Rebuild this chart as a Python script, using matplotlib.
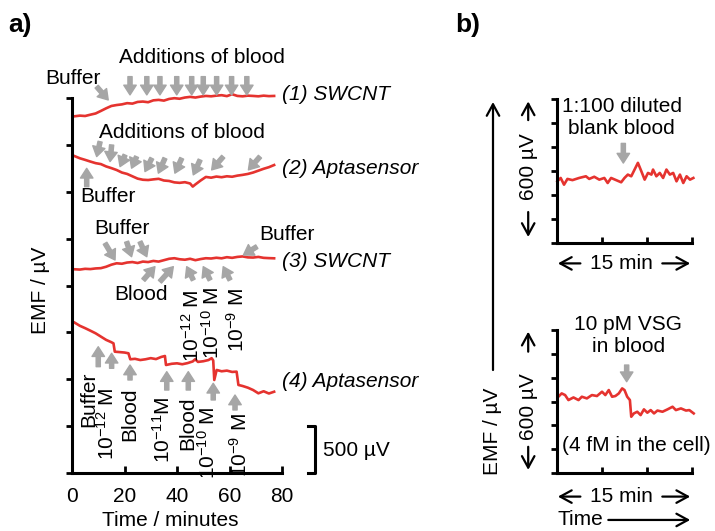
import matplotlib.pyplot as plt

plt.rcParams['font.family'] = ['Liberation Sans', 'DejaVu Sans']
plt.rcParams['mathtext.default'] = 'regular'

RED = '#e5332f'
GREY = '#a6a6a6'
FS = 15

# ---- panel a: EMF traces (time / min, EMF / uV, offset per trace) ----
t_swcnt1 = [1, 3, 5, 7, 9, 11, 13, 15, 17, 19, 21, 23, 25, 27, 29, 31, 33, 35, 37, 39,
            41, 43, 45, 47, 49, 51, 53, 55, 57, 59, 61, 63, 65, 67, 69, 71, 73, 75, 77]
emf_swcnt1 = [3805, 3812, 3808, 3822, 3835, 3862, 3890, 3915, 3925, 3932, 3945, 3940, 3958,
              3962, 3955, 3975, 3980, 3972, 3990, 3998, 3992, 4005, 4012, 4005, 4015, 4022,
              4018, 4025, 4030, 4020, 4040, 4022, 4018, 4025, 4022, 4018, 4025, 4020, 4022]

t_apta2 = [1, 3, 5, 7, 9, 11, 13, 15, 17, 19, 21, 23, 25, 27, 29, 31, 33, 35, 37, 39,
           41, 43, 45, 46, 47, 49, 51, 53, 55, 57, 59, 61, 63, 65, 67, 69, 71, 73, 75, 77]
emf_apta2 = [3380, 3357, 3340, 3322, 3305, 3295, 3270, 3252, 3232, 3205, 3190, 3165, 3140,
             3128, 3125, 3132, 3138, 3120, 3115, 3100, 3095, 3102, 3088, 3055, 3078, 3120,
             3158, 3150, 3162, 3155, 3165, 3160, 3172, 3180, 3190, 3205, 3225, 3245, 3262, 3285]

t_swcnt3 = [1, 3, 5, 7, 9, 11, 13, 15, 17, 19, 21, 23, 25, 27, 29, 31, 33, 35, 37, 39,
            41, 43, 45, 47, 49, 51, 53, 55, 57, 59, 61, 63, 65, 67, 69, 71, 73, 75, 77]
emf_swcnt3 = [2173, 2170, 2178, 2175, 2182, 2185, 2200, 2222, 2237, 2232, 2245, 2250, 2240,
              2255, 2250, 2262, 2255, 2270, 2285, 2291, 2280, 2275, 2285, 2270, 2282, 2291,
              2288, 2296, 2290, 2302, 2295, 2305, 2310, 2300, 2298, 2305, 2295, 2292, 2290]

t_apta4 = [1, 3, 5, 7, 9, 11, 13, 15, 15.8, 16.3, 18, 20, 21.5, 22.2, 24, 26, 28, 30, 32,
           34, 35.4, 35.8, 38, 40, 42, 44, 46, 46.9, 48, 50, 52, 53.2, 53.8, 54.2, 55.1,
           57, 59, 61, 62.7, 63.4, 65, 67, 69, 71, 73, 75, 77]
emf_apta4 = [1604, 1570, 1545, 1518, 1490, 1455, 1420, 1395, 1383, 1294, 1290, 1285, 1277,
             1213, 1218, 1205, 1213, 1225, 1215, 1238, 1248, 1152, 1165, 1170, 1160, 1172,
             1190, 1213, 1185, 1192, 1205, 1225, 1200, 992, 1099, 1085, 1092, 1078, 1081,
             939, 928, 910, 885, 850, 872, 848, 867]

trace_names = ['(1) SWCNT', '(2) Aptasensor', '(3) SWCNT', '(4) Aptasensor']
trace_label_emf = [4032, 3253, 2254, 974]

# blood additions on trace 1 (down arrows)
blood_adds_1 = [22.1, 28.5, 33.5, 39.9, 45.6, 50.0, 55.1, 60.8, 66.6]
# blood additions on trace 2 (tail -> tip)
adds2_tail_t = [10.7, 15.1, 20.2, 24.6, 30.4, 35.4, 41.8, 48.8, 57.6, 71.6]
adds2_tail_v = [3534, 3499, 3392, 3374, 3357, 3357, 3357, 3340, 3374, 3374]
adds2_tip_t = [9.4, 14.5, 18.3, 22.7, 27.8, 32.9, 39.2, 46.2, 53.2, 67.2]
adds2_tip_v = [3375, 3322, 3268, 3251, 3215, 3198, 3198, 3180, 3233, 3233]

# trace 3 concentrations
conc3_labels = ['10$^{-12}$ M', '10$^{-10}$ M', '10$^{-9}$ M']
conc3_tail_t = [46.2, 52.6, 60.2]
conc3_tip_t = [43.7, 50.0, 57.6]
conc3_label_t = [45.6, 53.2, 62.7]
conc3_label_v = [1952, 1984, 1973]

# trace 4 additions (vertical up arrows)
add4_labels = ['Buffer', '10$^{-12}$ M', 'Blood', '10$^{-11}$M', 'Blood', '10$^{-10}$ M', '10$^{-9}$ M']
add4_arrow_t = [10.0, 15.1, 22.1, 36.1, 44.3, 53.8, 62.1]
add4_tail_v = [1134, 1117, 992, 885, 885, 779, 672]
add4_tip_v = [1347, 1277, 1152, 1081, 1081, 957, 832]
add4_label_t = [6.2, 13.3, 22.1, 34.7, 44.2, 51.8, 64.0]
add4_label_v = [1081, 907, 907, 811, 811, 704, 640]

scale_bar_uv = 500

# ---- panel b: 15 min recordings (min, uV) ----
t_blank = [0.04, 0.41, 0.78, 1.16, 1.72, 2.46, 3.21, 3.58, 4.14, 4.70, 5.26, 5.63, 6.01,
           6.57, 7.13, 7.50, 7.87, 8.25, 8.62, 8.99, 9.37, 9.74, 10.11, 10.49, 10.67, 11.04,
           11.42, 11.79, 12.16, 12.54, 12.91, 13.28, 13.66, 14.03, 14.40, 14.78, 15.15]
emf_blank = [257, 271, 243, 267, 262, 271, 278, 267, 276, 264, 271, 250, 271, 262, 253, 271,
             285, 278, 306, 334, 299, 264, 292, 285, 306, 278, 292, 271, 306, 285, 292, 257,
             285, 250, 278, 264, 271]

t_vsg = [0.15, 0.52, 0.90, 1.27, 1.83, 2.39, 2.76, 3.32, 3.88, 4.44, 5.00, 5.37, 5.75, 6.12,
         6.49, 6.87, 7.24, 7.50, 7.80, 8.10, 8.25, 8.54, 8.92, 9.29, 9.66, 10.04, 10.41,
         10.78, 11.16, 11.72, 12.28, 12.84, 13.21, 13.77, 14.33, 14.70, 15.19]
emf_vsg = [320, 334, 327, 306, 317, 306, 320, 313, 327, 323, 341, 327, 348, 320, 323, 334,
           355, 348, 320, 306, 236, 250, 257, 243, 267, 253, 264, 250, 262, 257, 267, 278,
           264, 271, 262, 264, 250]


def grey_arrow(ax, tail, tip):
    ax.annotate('', xy=tip, xytext=tail, annotation_clip=False,
                arrowprops=dict(color=GREY, width=3, headwidth=9, headlength=7, shrink=0))


def black_arrow(ax, tail, tip, coords='data'):
    ax.annotate('', xy=tip, xytext=tail, xycoords=coords, textcoords=coords,
                annotation_clip=False,
                arrowprops=dict(arrowstyle='->,head_length=0.55,head_width=0.3',
                                lw=1.6, color='black', mutation_scale=15,
                                shrinkA=0, shrinkB=0))


fig = plt.figure(figsize=(7.15, 5.31), dpi=100)

# ================= panel a =================
ax = fig.add_axes([72 / 715, 58 / 531, 210 / 715, 375 / 531])
for t, v in [(t_swcnt1, emf_swcnt1), (t_apta2, emf_apta2),
             (t_swcnt3, emf_swcnt3), (t_apta4, emf_apta4)]:
    ax.plot(t, v, color=RED, lw=1.9, clip_on=False)

ax.set_xlim(0, 80)
ax.set_ylim(0, 4000)
ax.set_xticks([0, 20, 40, 60, 80])
ax.set_yticks(range(0, 4001, 500))
ax.tick_params(axis='x', labelsize=FS, direction='in', length=5, width=2, pad=10)
ax.tick_params(axis='y', labelleft=False, direction='out', length=4, width=2)
for s in ['top', 'right']:
    ax.spines[s].set_visible(False)
for s in ['left', 'bottom']:
    ax.spines[s].set_linewidth(2.2)

for name, v in zip(trace_names, trace_label_emf):
    ax.text(79.9, v, name, fontsize=FS, style='italic', va='center', ha='left')

# trace 1
ax.text(0.4, 4213, 'Buffer', fontsize=FS, ha='center', va='center')
grey_arrow(ax, (9.4, 4121), (13.8, 3979))
ax.text(49.5, 4437, 'Additions of blood', fontsize=FS, ha='center', va='center')
for t in blood_adds_1:
    grey_arrow(ax, (t, 4228), (t, 4033))

# trace 2
ax.text(41.9, 3627, 'Additions of blood', fontsize=FS, ha='center', va='center')
for a, b, c, d in zip(adds2_tail_t, adds2_tail_v, adds2_tip_t, adds2_tip_v):
    grey_arrow(ax, (a, b), (c, d))
grey_arrow(ax, (5.6, 3054), (5.6, 3250))
ax.text(13.8, 2947, 'Buffer', fontsize=FS, ha='center', va='center')

# trace 3
ax.text(19.2, 2613, 'Buffer', fontsize=FS, ha='center', va='center')
grey_arrow(ax, (12.6, 2450), (16.4, 2272))
grey_arrow(ax, (20.8, 2467), (22.7, 2307))
grey_arrow(ax, (25.9, 2467), (28.5, 2307))
ax.text(81.7, 2539, 'Buffer', fontsize=FS, ha='center', va='center')
grey_arrow(ax, (70.4, 2414), (65.3, 2325))
ax.text(26.3, 1899, 'Blood', fontsize=FS, ha='center', va='center')
grey_arrow(ax, (27.2, 2059), (31.6, 2201))
grey_arrow(ax, (33.5, 2041), (38.6, 2201))
for lab, a, c, lt, lv in zip(conc3_labels, conc3_tail_t, conc3_tip_t, conc3_label_t, conc3_label_v):
    grey_arrow(ax, (a, 2059), (c, 2201))
    ax.text(lt, lv, lab, fontsize=FS, rotation=90, ha='center', va='top')

# trace 4
for lab, t, v0, v1, lt, lv in zip(add4_labels, add4_arrow_t, add4_tail_v, add4_tip_v,
                                  add4_label_t, add4_label_v):
    grey_arrow(ax, (t, v0), (t, v1))
    ax.text(lt, lv, lab, fontsize=FS, rotation=90, ha='center', va='top')

# 500 uV scale bar
ax.plot([90.0, 92.6, 92.6, 90.0], [scale_bar_uv, scale_bar_uv, 0, 0],
        color='black', lw=2.2, clip_on=False)
ax.text(95.6, 235, '500 µV', fontsize=FS, ha='left', va='center')

fig.text(40 / 715, 1 - 290 / 531, 'EMF / µV', fontsize=FS, rotation=90, ha='center', va='center')
fig.text(170 / 715, 1 - 520 / 531, 'Time / minutes', fontsize=FS, ha='center', va='center')
fig.text(8 / 715, 1 - 25 / 531, 'a)', fontsize=19, fontweight='bold', va='center')
fig.text(455 / 715, 1 - 25 / 531, 'b)', fontsize=19, fontweight='bold', va='center')

# ================= panel b =================
ax_bt = fig.add_axes([557 / 715, 288 / 531, 135 / 715, 144 / 531])
ax_bb = fig.add_axes([557 / 715, 58 / 531, 135 / 715, 143 / 531])
ax_bt.plot(t_blank, emf_blank, color=RED, lw=1.9, clip_on=False)
ax_bb.plot(t_vsg, emf_vsg, color=RED, lw=1.9, clip_on=False)

for a in [ax_bt, ax_bb]:
    a.set_xlim(0, 15)
    a.set_ylim(0, 600)
    a.set_xticks([0, 5, 10, 15])
    a.set_yticks(range(0, 601, 100))
    a.tick_params(axis='x', labelbottom=False, direction='in', length=4, width=2)
    a.tick_params(axis='y', labelleft=False, direction='out', length=4, width=2)
    for s in ['top', 'right']:
        a.spines[s].set_visible(False)
    for s in ['left', 'bottom']:
        a.spines[s].set_linewidth(2.2)

# top recording
ax_bt.text(7.2, 523, '1:100 diluted\nblank blood', fontsize=FS, ha='center', va='center')
grey_arrow(ax_bt, (7.37, 415), (7.37, 333))
ax_bt.text(-3.2, 317, '600 µV', fontsize=FS, rotation=90, ha='center', va='center')
black_arrow(ax_bt, (-3.2, 512), (-3.2, 590))
black_arrow(ax_bt, (-3.2, 129), (-3.2, 25))
ax_bt.text(7.2, -85, '15 min', fontsize=FS, ha='center', va='center')
black_arrow(ax_bt, (2.6, -85), (0.1, -85))
black_arrow(ax_bt, (11.7, -85), (14.8, -85))

# bottom recording
ax_bb.text(7.9, 577, '10 pM VSG\nin blood', fontsize=FS, ha='center', va='center')
grey_arrow(ax_bb, (7.74, 453), (7.74, 383))
ax_bb.text(8.85, 117, '(4 fM in the cell)', fontsize=FS, ha='center', va='center')
ax_bb.text(-3.2, 277, '600 µV', fontsize=FS, rotation=90, ha='center', va='center')
black_arrow(ax_bb, (-3.2, 509), (-3.2, 593))
black_arrow(ax_bb, (-3.2, 110), (-3.2, 13))
ax_bb.text(7.2, -99, '15 min', fontsize=FS, ha='center', va='center')
black_arrow(ax_bb, (2.6, -99), (0.1, -99))
black_arrow(ax_bb, (11.7, -99), (14.8, -99))
ax_bb.text(0, -197, 'Time', fontsize=FS, ha='left', va='center')
black_arrow(ax_bb, (5.7, -197), (14.8, -197))

# EMF axis arrow for panel b
fig.text(493 / 715, 1 - 431 / 531, 'EMF / µV', fontsize=FS, rotation=90, ha='center', va='center')
black_arrow(ax_bb, (493 / 715, 1 - 370 / 531), (493 / 715, 1 - 102 / 531), coords='figure fraction')

fig.savefig('out.png', dpi=100)
